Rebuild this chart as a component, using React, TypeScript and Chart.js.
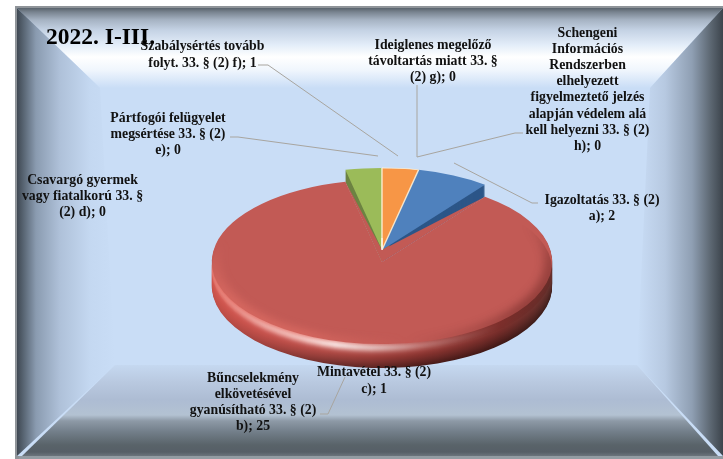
import React, { useEffect, useRef } from "react";
import { Chart, registerables } from "chart.js";

Chart.register(...registerables);

const title = "2022. I-III.";
const categories = [
  "Igazoltatás 33. § (2) a)",
  "Bűncselekmény elkövetésével gyanúsítható 33. § (2) b)",
  "Mintavétel 33. § (2) c)",
  "Csavargó gyermek vagy fiatalkorú 33. § (2) d)",
  "Pártfogói felügyelet megsértése 33. § (2) e)",
  "Szabálysértés tovább folyt. 33. § (2) f)",
  "Ideiglenes megelőző távoltartás miatt 33. § (2) g)",
  "Schengeni Információs Rendszerben elhelyezett figyelmeztető jelzés alapján védelem alá kell helyezni 33. § (2) h)",
];
const values = [2, 25, 1, 0, 0, 1, 0, 0];
const colors = ["#4F81BD", "#C25A55", "#9BBB59", "#8064A2", "#4BACC6", "#F79646", "#2C4D75", "#772C2A"];
const labelLines = [
  ["Igazoltatás 33. § (2)", "a)"],
  ["Bűncselekmény", "elkövetésével", "gyanúsítható 33. § (2)", "b)"],
  ["Mintavétel 33. § (2)", "c)"],
  ["Csavargó gyermek", "vagy fiatalkorú 33. §", "(2) d)"],
  ["Pártfogói felügyelet", "megsértése 33. § (2)", "e)"],
  ["Szabálysértés tovább", "folyt. 33. § (2) f)"],
  ["Ideiglenes megelőző", "távoltartás miatt 33. §", "(2) g)"],
  ["Schengeni", "Információs", "Rendszerben", "elhelyezett", "figyelmeztető jelzés", "alapján védelem alá", "kell helyezni 33. § (2)", "h)"],
];
const labelX = [602, 253, 374, 82.5, 168, 202.5, 433, 587.5];
const labelY = [200, 378, 372, 180, 118, 46.5, 45, 33];
const lineStep = [16, 16, 17, 16, 16, 16.5, 16, 16.2];
const leaders: number[][][] = [
  [[538, 203], [532, 203], [454, 163]],
  [[320, 414], [328, 414], [345, 377]],
  [],
  [],
  [[230, 137], [238, 137], [378, 156]],
  [[258, 65], [268, 65], [398, 156]],
  [[417, 85], [417, 157]],
  [[523, 133], [515, 133], [417, 157]],
];

const SQUASH = 0.482;
const RED_SHIFT = 12;
const RED_DEPTH = 24;
const BACK_DEPTH = 12;

type Stop = [number, string];
function grad(ctx: CanvasRenderingContext2D, x0: number, y0: number, x1: number, y1: number, stops: Stop[]) {
  const g = ctx.createLinearGradient(x0, y0, x1, y1);
  const span = Math.abs(x1 - x0) + Math.abs(y1 - y0);
  const base = x1 !== x0 ? x0 : y0;
  stops.forEach(([p, c]) => g.addColorStop(Math.min(1, Math.max(0, Math.abs(p - base) / span)), c));
  return g;
}
function poly(ctx: CanvasRenderingContext2D, pts: number[][], fill: any) {
  ctx.beginPath();
  pts.forEach(([x, y], i) => (i ? ctx.lineTo(x, y) : ctx.moveTo(x, y)));
  ctx.closePath();
  ctx.fillStyle = fill;
  ctx.fill();
}

const bevelPlugin = {
  id: "bevel",
  beforeDraw(chart: any) {
    const ctx: CanvasRenderingContext2D = chart.ctx;
    const L = 17, T = 8, R = 723, B = 456;
    const iL = 100, iT = 88, iR = 650, iB = 365, bL = 115, bR = 637;
    ctx.save();
    ctx.fillStyle = "#8f9499";
    ctx.fillRect(15, 6, 708, 453);
    ctx.fillStyle = "#C9DDF6";
    ctx.fillRect(L, T, R - L, B - T);
    poly(ctx, [[L, T], [R, T], [iR, iT], [iL, iT]], grad(ctx, 0, T, 0, iT, [
      [8, "#59636c"], [12, "#78838f"], [20, "#a6b3c3"], [30, "#c4d2e4"], [45, "#e3edf9"],
      [57, "#ffffff"], [70, "#f0f6fd"], [88, "#C9DDF6"],
    ]));
    poly(ctx, [[L, T], [iL, iT], [bL, iB], [L, B]], grad(ctx, L, 0, 115, 0, [
      [17, "#3f4852"], [24, "#5a6775"], [36, "#8a9bb0"], [60, "#afc1d9"], [90, "#c4d8f1"], [115, "#C9DDF6"],
    ]));
    poly(ctx, [[R, T], [iR, iT], [bR, iB], [R, B]], grad(ctx, 637, 0, R, 0, [
      [637, "#C9DDF6"], [665, "#b7c9e1"], [692, "#8f9fb3"], [710, "#5e6974"], [723, "#3c444c"],
    ]));
    poly(ctx, [[L + 5, B], [bL, iB], [bR, iB], [R - 5, B]], grad(ctx, 0, iB, 0, B, [
      [365, "#c5d8f0"], [382, "#b9c9e0"], [400, "#adbcd3"], [415, "#b3c2d2"], [421, "#8d99a6"],
      [432, "#727e89"], [445, "#596369"], [452, "#565f67"], [456, "#6b747c"],
    ]));
    ctx.fillStyle = "#939ca3";
    ctx.fillRect(L + 2, B, R - L, 3);
    ctx.restore();
  },
};

function wedge(ctx: CanvasRenderingContext2D, arc: any, cyOffset: number) {
  const r = arc.outerRadius;
  ctx.beginPath();
  ctx.moveTo(arc.x, arc.y + cyOffset);
  ctx.arc(arc.x, arc.y + cyOffset, r, arc.startAngle, arc.endAngle);
  ctx.closePath();
}

const sideBase = [[214, 88, 80], [214, 88, 82], [205, 86, 80], [172, 65, 60], [135, 52, 48], [110, 55, 50]];
const sideGlow = [0.15, 0.6, 0.95, 0.3, 0, 0];
const sideDark = [0.1, 0.28, 0.5, 0.58, 0.55, 0.45];
const sideX = [209, 265, 335, 420, 500, 553];
function rampColor(i: number, d: number) {
  const t = d / RED_DEPTH;
  const shade = 1.02 - sideDark[i] * Math.pow(t, 1.6);
  const glow = sideGlow[i] * Math.exp(-Math.pow((d - 4) / 4.5, 2));
  const c = sideBase[i].map((v) => v * shade * (1 - glow) + 250 * glow);
  return `rgb(${c[0] | 0},${c[1] | 0},${c[2] | 0})`;
}

const piePlugin = {
  id: "pie3d",
  beforeDatasetsDraw(chart: any) {
    const ctx: CanvasRenderingContext2D = chart.ctx;
    const area = chart.chartArea;
    const cy = (area.top + area.bottom) / 2;
    const arcs = chart.getDatasetMeta(0).data;
    const red = arcs[1];
    red.y = cy + RED_SHIFT / SQUASH;
    ctx.save();
    ctx.translate(0, cy);
    ctx.scale(1, SQUASH);
    ctx.translate(0, -cy);
    // rims of the rear slices
    [0, 2, 5].forEach((i) => {
      const arc = arcs[i];
      ctx.fillStyle = i === 0 ? "#2c5688" : i === 2 ? "#6d8343" : "#b06a30";
      for (let d = BACK_DEPTH; d > 0; d--) {
        wedge(ctx, arc, d / SQUASH);
        ctx.fill();
      }
    });
    // rim of the big slice
    for (let d = RED_DEPTH; d > 0; d--) {
      const g = ctx.createLinearGradient(209, 0, 553, 0);
      sideX.forEach((x, i) => g.addColorStop((x - 209) / 344, rampColor(i, d)));
      ctx.fillStyle = g;
      wedge(ctx, red, d / SQUASH);
      ctx.fill();
    }
  },
  afterDatasetsDraw(chart: any) {
    const ctx: CanvasRenderingContext2D = chart.ctx;
    const area = chart.chartArea;
    const cy = (area.top + area.bottom) / 2;
    const red = chart.getDatasetMeta(0).data[1];
    const r = red.outerRadius;
    // big slice's point reaches the pie's true centre
    ctx.beginPath();
    ctx.moveTo(red.x, cy);
    ctx.lineTo(red.x + r * Math.cos(red.startAngle), red.y + r * Math.sin(red.startAngle));
    ctx.lineTo(red.x, red.y);
    ctx.lineTo(red.x + r * Math.cos(red.endAngle), red.y + r * Math.sin(red.endAngle));
    ctx.closePath();
    ctx.fillStyle = colors[1];
    ctx.fill();
    // soft bevel over surface and rim seam, fading out along the edge
    ctx.save();
    ctx.beginPath();
    ctx.moveTo(red.x, red.y);
    ctx.arc(red.x, red.y + 8 / SQUASH, r, -0.6, Math.PI + 0.6);
    ctx.closePath();
    ctx.clip();
    ctx.filter = "blur(4px)";
    const sheen = ctx.createConicGradient(0, red.x, red.y);
    [
      [0, "rgba(95,32,30,0.4)"],
      [0.1, "rgba(95,32,30,0.5)"],
      [0.225, "rgba(95,32,30,0)"],
      [0.23, "rgba(238,120,108,0)"],
      [0.33, "rgba(238,120,108,0.55)"],
      [0.43, "rgba(238,120,108,0.45)"],
      [0.54, "rgba(238,120,108,0)"],
      [0.92, "rgba(95,32,30,0)"],
      [1, "rgba(95,32,30,0.4)"],
    ].forEach(([p, c]) => sheen.addColorStop(p as number, c as string));
    ctx.beginPath();
    ctx.arc(red.x, red.y, r, 0, Math.PI * 2);
    ctx.strokeStyle = sheen;
    ctx.lineWidth = 16;
    ctx.stroke();
    ctx.restore();
    ctx.restore(); // closes the squash transform

    // white spark at the centre
    ctx.save();
    ctx.strokeStyle = "rgba(255,250,235,0.9)";
    ctx.lineWidth = 1.5;
    ctx.beginPath();
    ctx.moveTo(red.x, cy - 12);
    ctx.lineTo(red.x, cy);
    ctx.stroke();
    ctx.restore();

    // leader lines
    ctx.save();
    ctx.strokeStyle = "#a8a59f";
    ctx.lineWidth = 1;
    leaders.forEach((pts) => {
      if (!pts.length) return;
      ctx.beginPath();
      pts.forEach(([x, y], i) => (i ? ctx.lineTo(x, y) : ctx.moveTo(x, y)));
      ctx.stroke();
    });
    // title and labels
    ctx.textAlign = "left";
    ctx.textBaseline = "middle";
    ctx.fillStyle = "#000";
    ctx.font = 'bold 23.5px "Liberation Serif"';
    ctx.fillText(title, 46, 38);
    ctx.textAlign = "center";
    ctx.fillStyle = "#111";
    ctx.font = 'bold 13.8px "Liberation Serif"';
    labelLines.forEach((lines, i) => {
      lines.forEach((line, j) => {
        const text = j === lines.length - 1 ? `${line}; ${values[i]}` : line;
        ctx.fillText(text, labelX[i], labelY[i] + j * lineStep[i]);
      });
    });
    ctx.restore();
  },
};

export default function App() {
  const ref = useRef<HTMLCanvasElement>(null);
  useEffect(() => {
    const prevBg = document.body.style.background;
    document.body.style.background = "#fff";
    const chart = new Chart(ref.current!, {
      type: "pie",
      data: {
        labels: categories,
        datasets: [
          {
            data: values,
            backgroundColor: colors,
            borderWidth: [0, 0, 0, 0, 0, 1.5, 0, 0],
            borderColor: "rgba(255,244,220,0.85)",
            clip: false,
          } as any,
        ],
      },
      options: {
        responsive: false,
        animation: false,
        rotation: 12.4,
        layout: { padding: { left: 211, right: 170, top: 79, bottom: 38 } },
        plugins: { legend: { display: false }, tooltip: { enabled: false }, title: { display: false } },
      },
      plugins: [bevelPlugin, piePlugin],
    });
    return () => {
      chart.destroy();
      document.body.style.background = prevBg;
    };
  }, []);
  return (
    <div style={{ position: "absolute", left: 0, top: 0, width: 723, height: 459 }}>
      <canvas ref={ref} width={723} height={459} style={{ display: "block" }} />
    </div>
  );
}
